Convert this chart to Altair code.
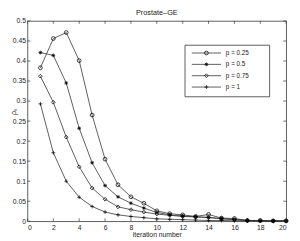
import altair as alt
import pandas as pd

iterations = list(range(1, 21))
series_labels = ["p = 0.25", "p = 0.5", "p = 0.75", "p = 1"]
p_025 = [0.383, 0.456, 0.471, 0.401, 0.265, 0.155, 0.091, 0.061, 0.045, 0.026,
         0.019, 0.016, 0.012, 0.017, 0.008, 0.007, 0.002, 0.002, 0.001, 0.001]
p_05 = [0.421, 0.414, 0.345, 0.232, 0.146, 0.089, 0.061, 0.045, 0.033, 0.022,
        0.016, 0.013, 0.011, 0.009, 0.007, 0.004, 0.002, 0.001, 0.001, 0.001]
p_075 = [0.362, 0.297, 0.210, 0.136, 0.083, 0.055, 0.036, 0.029, 0.023, 0.018,
         0.015, 0.012, 0.011, 0.010, 0.006, 0.004, 0.002, 0.001, 0.001, 0.001]
p_1 = [0.293, 0.171, 0.100, 0.060, 0.037, 0.023, 0.016, 0.012, 0.009, 0.006,
       0.005, 0.004, 0.003, 0.002, 0.002, 0.001, 0.001, 0.001, 0.000, 0.000]
x_ticks = [0, 2, 4, 6, 8, 10, 12, 14, 16, 18, 20]
y_ticks = [0, 0.05, 0.1, 0.15, 0.2, 0.25, 0.3, 0.35, 0.4, 0.45, 0.5]

rows = []
for lab, vals in zip(series_labels, [p_025, p_05, p_075, p_1]):
    for i, v in zip(iterations, vals):
        rows.append({"iter": i, "val": v, "series": lab})
df = pd.DataFrame(rows)

W, H = 266, 206
FONT = "Liberation Sans"
INK = "#222222"

shapes = [
    "circle",
    "M-1,0H1M0,-1V1M-0.7,-0.7L0.7,0.7M-0.7,0.7L0.7,-0.7",
    "diamond",
    "M-1,0H1M0,-1V1",
]
shape_enc = alt.Shape("series:N", scale=alt.Scale(domain=series_labels, range=shapes), legend=None)

xs = alt.Scale(domain=[0, 20], nice=False, zero=False)
ys = alt.Scale(domain=[0, 0.5], nice=False)

x_axis = alt.Axis(values=x_ticks, ticks=False, domain=False, grid=False,
                  labelFontSize=7, labelFont=FONT, labelColor=INK, labelPadding=2,
                  title="iteration number", titleFont=FONT, titleFontSize=7,
                  titleFontWeight="normal", titleColor=INK, titlePadding=1)
y_axis = alt.Axis(values=y_ticks, format=".2~f", ticks=False, domain=False, grid=False,
                  labelFontSize=7, labelFont=FONT, labelColor=INK, labelPadding=2,
                  title="ρₛ", titleFont=FONT, titleFontSize=7.5, titleFontWeight="normal",
                  titleColor=INK, titleX=-10, titleY=93, titleAngle=-90,
                  titleBaseline="bottom", titleAlign="center")


def X(field):
    return alt.X(field, scale=xs, axis=x_axis)


def Y(field):
    return alt.Y(field, scale=ys, axis=y_axis)


lines = alt.Chart(df).mark_line(color="#333333", strokeWidth=0.8).encode(
    x=X("iter:Q"), y=Y("val:Q"), detail="series:N",
)
points = alt.Chart(df).mark_point(filled=False, color="black", strokeWidth=0.75,
                                  size=15, opacity=1).encode(
    x=X("iter:Q"), y=Y("val:Q"), shape=shape_enc,
)

xt = pd.DataFrame({"t": x_ticks})
yt = pd.DataFrame({"t": y_ticks})
tick_style = dict(color="#333333", strokeWidth=0.7)
bottom_ticks = alt.Chart(xt).mark_rule(**tick_style).encode(
    x=X("t:Q"), y=alt.value(H), y2=alt.value(H - 3))
top_ticks = alt.Chart(xt).mark_rule(**tick_style).encode(
    x=X("t:Q"), y=alt.value(0), y2=alt.value(3))
left_ticks = alt.Chart(yt).mark_rule(**tick_style).encode(
    y=Y("t:Q"), x=alt.value(0), x2=alt.value(3))
right_ticks = alt.Chart(yt).mark_rule(**tick_style).encode(
    y=Y("t:Q"), x=alt.value(W), x2=alt.value(W - 3))

main = alt.layer(lines, points, bottom_ticks, top_ticks, left_ticks, right_ticks)

leg = pd.DataFrame({"series": series_labels})
leg_y = alt.Y("series:N", scale=alt.Scale(type="point", domain=series_labels,
                                          range=[33, 68], padding=0), axis=None)
box = alt.Chart(pd.DataFrame({"series": [series_labels[0]]})).mark_rect(
    fill="white", stroke="#333333", strokeWidth=0.8).encode(
    x=alt.value(162), x2=alt.value(249), y=alt.value(25), y2=alt.value(78))
leg_lines = alt.Chart(leg).mark_rule(color="#333333", strokeWidth=0.8).encode(
    x=alt.value(169), x2=alt.value(199), y=leg_y)
leg_points = alt.Chart(leg).mark_point(filled=False, color="black", strokeWidth=0.75,
                                       size=15, opacity=1).encode(
    x=alt.value(184), y=leg_y, shape=shape_enc)
leg_text = alt.Chart(leg).mark_text(align="left", baseline="middle", fontSize=6.5,
                                    font=FONT, color=INK).encode(
    x=alt.value(204), y=leg_y, text="series:N")
legend = alt.layer(box, leg_lines, leg_points, leg_text)

chart = alt.layer(main, legend).resolve_scale(y="independent").properties(
    width=W, height=H,
    title=alt.TitleParams("Prostate–GE", fontSize=7.5, fontWeight="normal",
                          font=FONT, color=INK, offset=1, anchor="middle"),
    autosize=alt.AutoSizeParams(type="none"),
    padding={"left": 20, "top": 10, "right": 6, "bottom": 17},
).configure_view(stroke="#333333", strokeWidth=0.8)

chart.save("out.html", embed_options={"renderer": "svg", "actions": False})
